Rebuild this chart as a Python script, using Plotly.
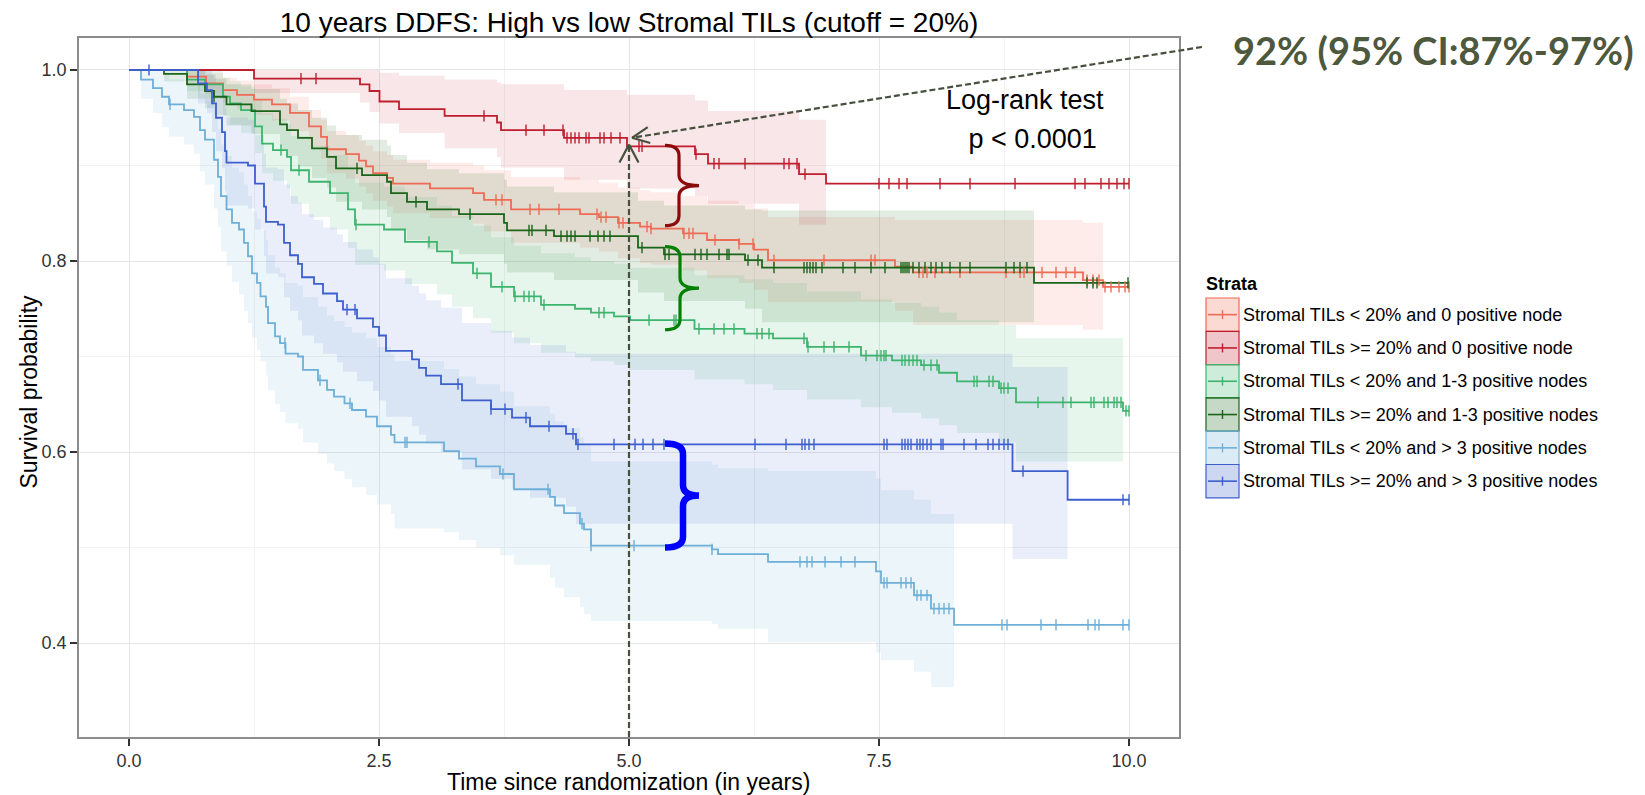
import math
import numpy as np
import plotly.graph_objects as go

# ---------------- data ----------------
STRATA = [
    "Stromal TILs &lt; 20% and 0 positive node",
    "Stromal TILs &gt;= 20% and 0 positive node",
    "Stromal TILs &lt; 20% and 1-3 positive nodes",
    "Stromal TILs &gt;= 20% and 1-3 positive nodes",
    "Stromal TILs &lt; 20% and &gt; 3 positive nodes",
    "Stromal TILs &gt;= 20% and &gt; 3 positive nodes",
]
COLORS = ["#EE6B55", "#BE1E2D", "#3DB46D", "#1A651A", "#6EAFD7", "#3C5FCD"]
BAND_ALPHA = [0.13, 0.11, 0.12, 0.12, 0.13, 0.11]

# Stratum A: <20%, 0 node
A_T = [0.58, 0.77, 0.94, 1.08, 1.25, 1.43, 1.61, 1.80, 1.92, 1.98, 2.17, 2.30, 2.37, 2.44, 2.58, 2.64, 3.01, 3.44,
       3.55, 3.82, 4.51, 4.70, 4.89, 5.11, 5.22, 5.54, 5.78, 6.10, 6.25, 6.39, 7.66, 7.84, 9.54, 9.74]
A_S = [0.993, 0.986, 0.979, 0.974, 0.969, 0.964, 0.955, 0.941, 0.930, 0.917, 0.912, 0.905, 0.899, 0.892, 0.887,
       0.881, 0.876, 0.871, 0.864, 0.854, 0.849, 0.846, 0.840, 0.836, 0.834, 0.829, 0.822, 0.818, 0.812, 0.801,
       0.794, 0.788, 0.780, 0.773]
A_LO = [0.985, 0.975, 0.966, 0.959, 0.953, 0.947, 0.936, 0.920, 0.907, 0.892, 0.886, 0.878, 0.871, 0.863, 0.857,
        0.850, 0.845, 0.839, 0.831, 0.819, 0.814, 0.810, 0.803, 0.798, 0.796, 0.790, 0.782, 0.777, 0.770, 0.757,
        0.748, 0.733, 0.728]
A_HI = [1.0, 0.997, 0.992, 0.989, 0.985, 0.981, 0.972, 0.958, 0.948, 0.936, 0.932, 0.926, 0.921, 0.915, 0.911,
        0.906, 0.903, 0.900, 0.895, 0.888, 0.885, 0.882, 0.877, 0.874, 0.872, 0.868, 0.863, 0.860, 0.855, 0.846,
        0.843, 0.843, 0.840]
A_CENS = [3.67, 3.73, 4.01, 4.10, 4.30, 4.68, 4.72, 4.77, 4.90, 4.94, 5.18, 5.22, 5.55, 5.60, 5.64, 5.86, 6.10,
          6.24, 6.45, 6.95, 7.42, 7.46, 7.90, 7.94, 7.98, 8.06, 8.31, 8.77, 8.91, 8.95, 9.13, 9.27, 9.37, 9.46,
          9.58, 9.64, 9.70, 9.76, 9.82, 9.90, 9.96, 10.0]

# Stratum B: >=20%, 0 node
B_T = [1.25, 2.31, 2.405, 2.505, 2.70, 3.156, 3.68, 3.72, 4.35, 4.98, 5.66, 5.79, 6.70, 6.97]
B_S = [0.991, 0.985, 0.978, 0.967, 0.959, 0.952, 0.945, 0.937, 0.929, 0.920, 0.912, 0.902, 0.891, 0.881]
B_LO = [0.976, 0.966, 0.956, 0.944, 0.934, 0.918, 0.909, 0.898, 0.885, 0.876, 0.868, 0.860, 0.838]
B_HI = [1.0, 1.0, 1.0, 0.997, 0.994, 0.990, 0.987, 0.985, 0.979, 0.974, 0.968, 0.957, 0.948]
B_CENS = [1.72, 1.87, 3.55, 3.97, 4.15, 4.34, 4.38, 4.42, 4.46, 4.50, 4.57, 4.60, 4.71, 4.75, 4.82, 4.91, 5.10,
          5.13, 5.67, 5.85, 5.90, 6.16, 6.55, 6.60, 6.68, 6.76, 7.50, 7.60, 7.70, 7.78, 8.11, 8.41, 8.86, 9.46,
          9.56, 9.72, 9.80, 9.88, 9.95, 10.0]

# Stratum C: <20%, 1-3 nodes
C_T = [0.58, 0.76, 0.94, 1.01, 1.12, 1.26, 1.33, 1.44, 1.58, 1.62, 1.80, 2.01, 2.19, 2.26, 2.55, 2.76, 3.08, 3.23,
       3.44, 3.62, 3.85, 4.12, 4.46, 4.62, 4.85, 5.01, 5.655, 6.155, 6.44, 6.78, 7.32, 7.63, 7.92, 8.10, 8.28, 8.70,
       8.87, 9.94]
C_S = [0.990, 0.985, 0.972, 0.965, 0.958, 0.941, 0.923, 0.916, 0.909, 0.895, 0.883, 0.871, 0.854, 0.838, 0.833,
       0.820, 0.810, 0.798, 0.787, 0.773, 0.763, 0.754, 0.750, 0.746, 0.742, 0.738, 0.729, 0.724, 0.719, 0.710,
       0.701, 0.696, 0.691, 0.683, 0.674, 0.667, 0.652, 0.643]
C_LO = [0.978, 0.970, 0.952, 0.943, 0.934, 0.913, 0.892, 0.884, 0.876, 0.860, 0.846, 0.833, 0.814, 0.796, 0.790,
        0.776, 0.765, 0.752, 0.740, 0.725, 0.714, 0.704, 0.699, 0.695, 0.691, 0.686, 0.676, 0.671, 0.665, 0.655,
        0.647, 0.641, 0.635, 0.628, 0.620, 0.610, 0.590]
C_HI = [1.0, 1.0, 0.992, 0.988, 0.983, 0.970, 0.955, 0.949, 0.943, 0.931, 0.921, 0.911, 0.896, 0.882, 0.878,
        0.867, 0.858, 0.847, 0.837, 0.825, 0.816, 0.808, 0.804, 0.800, 0.797, 0.793, 0.785, 0.781, 0.777, 0.768,
        0.760, 0.756, 0.752, 0.746, 0.738, 0.733, 0.719]
C_CENS = [1.52, 1.70, 2.27, 3.00, 3.48, 3.73, 3.86, 3.95, 4.00, 4.05, 4.15, 4.70, 4.75, 5.20, 5.45, 5.47, 5.70,
          5.85, 5.95, 6.05, 6.28, 6.33, 6.40, 6.75, 6.79, 6.95, 7.05, 7.20, 7.37, 7.48, 7.52, 7.55, 7.57, 7.73,
          7.76, 7.80, 7.84, 7.88, 7.95, 8.02, 8.08, 8.45, 8.48, 8.60, 8.64, 8.72, 8.75, 8.79, 9.09, 9.34, 9.42,
          9.62, 9.65, 9.75, 9.79, 9.85, 9.88, 9.92, 9.97, 10.0]

# Stratum D: >=20%, 1-3 nodes
D_T = [0.35, 0.58, 0.76, 0.85, 0.975, 1.225, 1.51, 1.58, 1.69, 1.83, 1.98, 2.07, 2.33, 2.58, 2.62, 2.78, 2.98,
       3.30, 3.75, 3.78, 4.25, 5.09, 5.35, 6.16, 6.33, 9.05]
D_S = [0.996, 0.985, 0.978, 0.972, 0.964, 0.957, 0.943, 0.937, 0.929, 0.918, 0.909, 0.897, 0.890, 0.883, 0.871,
       0.862, 0.854, 0.849, 0.840, 0.832, 0.826, 0.814, 0.807, 0.801, 0.793, 0.777]
D_LO = [0.988, 0.970, 0.960, 0.953, 0.942, 0.933, 0.916, 0.910, 0.899, 0.887, 0.877, 0.862, 0.854, 0.846, 0.832,
        0.822, 0.812, 0.807, 0.797, 0.788, 0.780, 0.767, 0.758, 0.750, 0.736]
D_HI = [1.0, 1.0, 0.995, 0.991, 0.985, 0.980, 0.970, 0.965, 0.958, 0.950, 0.942, 0.932, 0.927, 0.921, 0.911,
        0.903, 0.896, 0.892, 0.885, 0.878, 0.872, 0.863, 0.858, 0.854, 0.853]
D_CENS = [0.85, 2.28, 2.87, 3.41, 4.00, 4.03, 4.17, 4.32, 4.38, 4.42, 4.46, 4.61, 4.69, 4.75, 4.81, 5.13, 5.36,
          5.40, 5.66, 5.72, 5.78, 5.90, 5.98, 6.00, 6.19, 6.29, 6.45, 6.75, 6.78, 6.81, 6.84, 6.87, 6.93, 7.14,
          7.26, 7.42, 7.56, 7.72, 7.74, 7.76, 7.78, 7.80, 7.84, 7.90, 7.96, 8.02, 8.07, 8.13, 8.21, 8.31, 8.41,
          8.77, 8.85, 8.91, 8.98, 9.58, 9.64, 9.68, 9.99]

# Stratum E: <20%, >3 nodes
E_T = [0.12, 0.24, 0.33, 0.40, 0.55, 0.65, 0.71, 0.76, 0.85, 0.89, 0.92, 0.975, 1.03, 1.10, 1.15, 1.19, 1.23, 1.28,
       1.315, 1.37, 1.39, 1.46, 1.51, 1.565, 1.69, 1.74, 1.89, 1.98, 2.05, 2.155, 2.23, 2.37, 2.48, 2.62, 2.655,
       3.15, 3.30, 3.47, 3.71, 3.85, 4.21, 4.26, 4.35, 4.51, 4.55, 4.62, 5.83, 5.89, 6.39, 7.47, 7.52, 7.85, 8.02,
       8.25]
E_S = [0.990, 0.981, 0.972, 0.964, 0.958, 0.951, 0.937, 0.927, 0.906, 0.888, 0.868, 0.854, 0.840, 0.833, 0.819,
       0.805, 0.787, 0.777, 0.763, 0.752, 0.735, 0.721, 0.714, 0.703, 0.700, 0.686, 0.675, 0.665, 0.658, 0.651,
       0.644, 0.637, 0.627, 0.618, 0.610, 0.601, 0.593, 0.585, 0.577, 0.561, 0.553, 0.544, 0.536, 0.525, 0.519,
       0.502, 0.498, 0.493, 0.485, 0.475, 0.463, 0.450, 0.436, 0.419]
E_LO = [0.970, 0.955, 0.940, 0.930, 0.922, 0.912, 0.894, 0.880, 0.855, 0.835, 0.810, 0.795, 0.778, 0.765, 0.748,
        0.735, 0.720, 0.707, 0.695, 0.680, 0.665, 0.650, 0.642, 0.630, 0.624, 0.610, 0.598, 0.588, 0.580, 0.572,
        0.563, 0.555, 0.545, 0.535, 0.520, 0.516, 0.508, 0.500, 0.492, 0.482, 0.468, 0.458, 0.448, 0.438, 0.430,
        0.423, 0.420, 0.415, 0.401, 0.390, 0.382, 0.370, 0.354]
E_HI = [1.0, 1.0, 0.995, 0.990, 0.987, 0.984, 0.975, 0.968, 0.952, 0.938, 0.922, 0.910, 0.898, 0.893, 0.880,
        0.868, 0.852, 0.844, 0.832, 0.822, 0.806, 0.793, 0.787, 0.777, 0.774, 0.762, 0.752, 0.743, 0.737, 0.731,
        0.725, 0.719, 0.710, 0.702, 0.695, 0.687, 0.679, 0.671, 0.663, 0.648, 0.640, 0.632, 0.625, 0.615, 0.609,
        0.590, 0.587, 0.583, 0.580, 0.572, 0.560, 0.550, 0.535]
E_CENS = [0.41, 1.56, 1.91, 2.21, 2.76, 2.78, 3.74, 4.19, 4.53, 4.62, 5.05, 5.83, 6.71, 6.78, 6.83, 6.96, 7.12,
          7.26, 7.55, 7.58, 7.72, 7.77, 7.82, 7.88, 7.92, 7.98, 8.05, 8.10, 8.15, 8.20, 8.73, 8.78, 9.12, 9.27,
          9.59, 9.66, 9.70, 9.94, 10.0]

# Stratum F: >=20%, >3 nodes
F_T = [0.69, 0.78, 0.83, 0.87, 0.93, 0.96, 0.975, 1.19, 1.26, 1.35, 1.37, 1.49, 1.55, 1.61, 1.69, 1.73, 1.85,
       1.94, 2.08, 2.14, 2.28, 2.44, 2.50, 2.57, 2.83, 2.90, 2.97, 3.12, 3.33, 3.62, 3.83, 4.01, 4.37, 4.47,
       8.835, 9.386]
F_S = [0.986, 0.979, 0.965, 0.950, 0.935, 0.915, 0.903, 0.900, 0.881, 0.857, 0.841, 0.838, 0.819, 0.806, 0.797,
       0.783, 0.776, 0.766, 0.758, 0.749, 0.740, 0.731, 0.722, 0.706, 0.697, 0.688, 0.680, 0.671, 0.654, 0.645,
       0.636, 0.627, 0.619, 0.608, 0.580, 0.550]
F_LO = [0.965, 0.955, 0.935, 0.915, 0.897, 0.873, 0.858, 0.855, 0.833, 0.805, 0.787, 0.783, 0.762, 0.748, 0.738,
        0.722, 0.714, 0.703, 0.694, 0.684, 0.674, 0.664, 0.654, 0.637, 0.627, 0.618, 0.609, 0.600, 0.582, 0.572,
        0.562, 0.552, 0.543, 0.525, 0.488]
F_HI = [1.0, 1.0, 0.995, 0.985, 0.975, 0.960, 0.950, 0.948, 0.932, 0.912, 0.898, 0.896, 0.880, 0.868, 0.861,
        0.849, 0.843, 0.835, 0.828, 0.820, 0.812, 0.804, 0.797, 0.782, 0.774, 0.766, 0.759, 0.751, 0.735, 0.727,
        0.720, 0.712, 0.705, 0.703, 0.689]
F_CENS = [0.20, 2.18, 2.26, 3.29, 3.62, 3.76, 3.97, 4.20, 4.44, 4.49, 4.85, 5.06, 5.14, 5.24, 5.35, 6.26, 6.57,
          6.73, 6.76, 6.80, 6.85, 7.55, 7.58, 7.73, 7.76, 7.79, 7.82, 7.88, 7.91, 7.94, 7.98, 8.02, 8.12, 8.14,
          8.35, 8.47, 8.59, 8.64, 8.70, 8.75, 8.79, 8.94, 9.94, 10.0]

SERIES = [
    (A_T, A_S, A_LO, A_HI, A_CENS),
    (B_T, B_S, B_LO, B_HI, B_CENS),
    (C_T, C_S, C_LO, C_HI, C_CENS),
    (D_T, D_S, D_LO, D_HI, D_CENS),
    (E_T, E_S, E_LO, E_HI, E_CENS),
    (F_T, F_S, F_LO, F_HI, F_CENS),
]
END_TIME = 10.0

X_TICKS = [0, 2.5, 5, 7.5, 10]
X_TICK_LABELS = ["0.0", "2.5", "5.0", "7.5", "10.0"]
Y_TICKS = [0.4, 0.6, 0.8, 1.0]
Y_TICK_LABELS = ["0.4", "0.6", "0.8", "1.0"]

TITLE = "10 years DDFS: High vs low Stromal TILs (cutoff = 20%)"
X_TITLE = "Time since randomization (in years)"
Y_TITLE = "Survival probability"
PVAL_LINES = ["Log-rank test", " p &lt; 0.0001"]
HIGHLIGHT = "92% (95% CI:87%-97%)"
HIGHLIGHT_T, HIGHLIGHT_S = 5.0, 0.92

# ---------------- layout geometry ----------------
W, H = 1645, 795
PL, PR, PT, PB = 79, 1179, 38, 737
XR = [-0.5, 10.5]
YR = [0.3016, 1.0335]
FONT = "Liberation Sans, Arial, Helvetica, sans-serif"


def rgba(hexc, a):
    h = hexc.lstrip("#")
    return "rgba(%d,%d,%d,%.3f)" % (int(h[0:2], 16), int(h[2:4], 16), int(h[4:6], 16), a)


def data_px(t, s):
    return (PL + (t - XR[0]) / (XR[1] - XR[0]) * (PR - PL),
            PB - (s - YR[0]) / (YR[1] - YR[0]) * (PB - PT))


def pp(px, py):
    return ((px - PL) / (PR - PL), (PB - py) / (PB - PT))


fig = go.Figure()

# confidence bands
for i, (T, S, LO, HI, CE) in enumerate(SERIES):
    n = min(len(LO), len(HI), len(T) - 1)
    bx = [0.0] + T[:n + 1]
    blo = [1.0] + LO[:n] + [LO[n - 1]]
    bhi = [1.0] + HI[:n] + [HI[n - 1]]
    fig.add_trace(go.Scatter(x=bx, y=blo, mode="lines", line=dict(width=0, shape="hv"),
                             hoverinfo="skip", showlegend=False))
    fig.add_trace(go.Scatter(x=bx, y=bhi, mode="lines", line=dict(width=0, shape="hv"),
                             fill="tonexty", fillcolor=rgba(COLORS[i], BAND_ALPHA[i]),
                             hoverinfo="skip", showlegend=False))

# survival curves
for i, (T, S, LO, HI, CE) in enumerate(SERIES):
    x = [0.0] + T + [END_TIME]
    y = [1.0] + S + [S[-1]]
    fig.add_trace(go.Scatter(x=x, y=y, mode="lines", line=dict(color=COLORS[i], width=1.8, shape="hv"),
                             name=STRATA[i], showlegend=False))

# censoring marks
for i, (T, S, LO, HI, CE) in enumerate(SERIES):
    idx = np.searchsorted(np.array(T), np.array(CE), side="right") - 1
    cy = [1.0 if k < 0 else S[k] for k in idx]
    fig.add_trace(go.Scatter(x=CE, y=cy, mode="markers",
                             marker=dict(symbol="line-ns", size=8, line=dict(width=1.4, color=COLORS[i])),
                             hoverinfo="skip", showlegend=False))

shapes = []
annotations = []


def brace_path(xl, xs, xt, yt, yb, r):
    ym = (yt + yb) / 2
    return ("M %f,%f Q %f,%f %f,%f L %f,%f Q %f,%f %f,%f Q %f,%f %f,%f L %f,%f Q %f,%f %f,%f" % (
        xl, yt, xs, yt, xs, yt - r, xs, ym + r, xs, ym, xt, ym, xs, ym, xs, ym - r, xs, yb + r, xs, yb, xl, yb))


BRACES = [
    (0.921, 0.837, "#8B0A0A", 3.2, 5.50),
    (0.815, 0.728, "#008000", 3.2, 5.51),
    (0.609, 0.500, "#0000FF", 6.5, 5.54),
]
for yt, yb, col, wd, xs in BRACES:
    shapes.append(dict(type="path", xref="x", yref="y", path=brace_path(5.36, xs, 5.70, yt, yb, 0.011),
                       line=dict(color=col, width=wd), layer="above"))

# dashed guide lines with open arrowheads
GUIDE = "#474F3D"
tip_v = data_px(HIGHLIGHT_T, HIGHLIGHT_S + 0.002)
bottom_v = (tip_v[0], PB)
x0, y0 = pp(*bottom_v)
x1, y1 = pp(*tip_v)
shapes.append(dict(type="line", xref="paper", yref="paper", x0=x0, y0=y0, x1=x1, y1=y1,
                   line=dict(color=GUIDE, width=2.2, dash="6px,3px")))
for dx in (-9.5, 9.5):
    ax, ay = pp(tip_v[0] + dx, tip_v[1] + 18)
    shapes.append(dict(type="line", xref="paper", yref="paper", x0=x1, y0=y1, x1=ax, y1=ay,
                       line=dict(color=GUIDE, width=2.2)))

tip_d = data_px(HIGHLIGHT_T + 0.03, HIGHLIGHT_S + 0.009)
start_d = (1202, 47)
x0, y0 = pp(*start_d)
x1, y1 = pp(*tip_d)
shapes.append(dict(type="line", xref="paper", yref="paper", x0=x0, y0=y0, x1=x1, y1=y1,
                   line=dict(color=GUIDE, width=2.2, dash="6px,3px")))
ang = math.atan2(start_d[1] - tip_d[1], start_d[0] - tip_d[0])
for sg in (-1, 1):
    a = ang + sg * math.radians(25)
    ax, ay = pp(tip_d[0] + 19 * math.cos(a), tip_d[1] + 19 * math.sin(a))
    shapes.append(dict(type="line", xref="paper", yref="paper", x0=x1, y0=y1, x1=ax, y1=ay,
                       line=dict(color=GUIDE, width=2.2)))

# highlight text
hx, hy = pp(1231, 50)
annotations.append(dict(text="<b>%s</b>" % HIGHLIGHT, xref="paper", yref="paper", x=hx, y=hy,
                        xanchor="left", yanchor="middle", showarrow=False,
                        font=dict(family="Lato, Open Sans, sans-serif", size=38, color="#4E583C")))

# log-rank text
annotations.append(dict(text=PVAL_LINES[0], xref="x", yref="y", x=8.96, y=0.969, showarrow=False,
                        xanchor="center", yanchor="middle", font=dict(family=FONT, size=27, color="#000")))
annotations.append(dict(text=PVAL_LINES[1], xref="x", yref="y", x=9.00, y=0.928, showarrow=False,
                        xanchor="center", yanchor="middle", font=dict(family=FONT, size=27, color="#000")))

# axis titles
ax_, ay_ = pp(628.5, 782)
annotations.append(dict(text=X_TITLE, xref="paper", yref="paper", x=ax_, y=ay_, showarrow=False,
                        xanchor="center", yanchor="middle", borderpad=0,
                        font=dict(family=FONT, size=23, color="#000")))
ax_, ay_ = pp(28, 391.5)
annotations.append(dict(text=Y_TITLE, xref="paper", yref="paper", x=ax_, y=ay_, showarrow=False,
                        textangle=-90, xanchor="center", yanchor="middle",
                        font=dict(family=FONT, size=23, color="#000")))

# manual legend
lx, ly = pp(1204, 284)
annotations.append(dict(text="<b>Strata</b>", xref="paper", yref="paper", x=lx, y=ly, showarrow=False,
                        xanchor="left", yanchor="middle", font=dict(family=FONT, size=18, color="#000")))
ROW_TOP, ROW_H = 298, 33.3
KX0, KX1 = 1206, 1239
for i, name in enumerate(STRATA):
    top = ROW_TOP + i * ROW_H
    bot = top + ROW_H
    yc = (top + bot) / 2
    bx0, by0 = pp(KX0, bot)
    bx1, by1 = pp(KX1, top)
    shapes.append(dict(type="rect", xref="paper", yref="paper", x0=bx0, y0=by0, x1=bx1, y1=by1,
                       fillcolor=rgba(COLORS[i], 0.25), line=dict(color=COLORS[i], width=1.2)))
    lx0, lyc = pp(KX0 + 2, yc)
    lx1, _ = pp(KX1 - 2, yc)
    shapes.append(dict(type="line", xref="paper", yref="paper", x0=lx0, y0=lyc, x1=lx1, y1=lyc,
                       line=dict(color=COLORS[i], width=1.6)))
    tx, ty0 = pp((KX0 + KX1) / 2, yc - 4.5)
    _, ty1 = pp((KX0 + KX1) / 2, yc + 4.5)
    shapes.append(dict(type="line", xref="paper", yref="paper", x0=tx, y0=ty0, x1=tx, y1=ty1,
                       line=dict(color=COLORS[i], width=1.4)))
    nx, ny = pp(1241, yc)
    annotations.append(dict(text=name, xref="paper", yref="paper", x=nx, y=ny, showarrow=False,
                            xanchor="left", yanchor="middle", font=dict(family=FONT, size=18, color="#000")))

axis_common = dict(showgrid=True, gridcolor="#E6E6E6", gridwidth=1, zeroline=False,
                   ticks="outside", ticklen=7, tickwidth=2, tickcolor="#333333",
                   showline=True, mirror=True, linecolor="#8C8C8C", linewidth=1.5,
                   tickfont=dict(family=FONT, size=18, color="#333333"))

fig.update_layout(
    width=W, height=H,
    margin=dict(l=PL, r=W - PR, t=PT, b=H - PB, autoexpand=False),
    plot_bgcolor="white", paper_bgcolor="white",
    showlegend=False,
    title=dict(text=TITLE, x=0.5, xref="paper", xanchor="center", y=1 - 22 / H, yref="container",
               yanchor="middle", font=dict(family=FONT, size=28, color="#000")),
    xaxis=dict(range=XR, tickvals=X_TICKS, ticktext=X_TICK_LABELS,
               minor=dict(tickvals=[1.25, 3.75, 6.25, 8.75], showgrid=True, gridcolor="#F2F2F2", ticks=""),
               **axis_common),
    yaxis=dict(range=YR, tickvals=Y_TICKS, ticktext=Y_TICK_LABELS,
               minor=dict(tickvals=[0.5, 0.7, 0.9], showgrid=True, gridcolor="#F2F2F2", ticks=""),
               **axis_common),
    shapes=shapes,
    annotations=annotations,
)

fig.write_html("out.html", config={"displayModeBar": False},
               post_script="document.body.style.margin='0';document.body.style.padding='0';"
                           "document.body.style.overflow='hidden';")
